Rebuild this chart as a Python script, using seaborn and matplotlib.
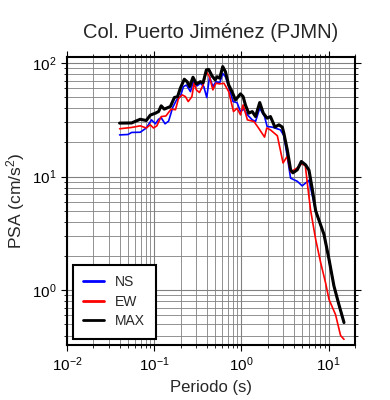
import matplotlib
matplotlib.use("Agg")
import matplotlib.pyplot as plt
import matplotlib.ticker as mticker
import seaborn as sns
import pandas as pd

title = "Col. Puerto Jiménez (PJMN)"
xlabel = "Periodo (s)"
ylabel = "PSA (cm/s$^2$)"

ns_T = [0.04, 0.05, 0.055, 0.069, 0.081, 0.093, 0.103, 0.112, 0.12, 0.133, 0.146,
        0.163, 0.18, 0.199, 0.216, 0.234, 0.26, 0.28, 0.31, 0.338, 0.37, 0.40, 0.43,
        0.47, 0.51, 0.563, 0.61, 0.654, 0.714, 0.80, 0.89, 0.975, 1.06, 1.17, 1.33,
        1.45, 1.62, 1.84, 1.97, 2.25, 2.8, 3.06, 3.35, 3.66, 4.37, 4.97, 5.95,
        7.1, 8.84, 10.1, 11.5, 13.1, 15.0]
ns_psa = [23.3, 23.5, 24.5, 24.6, 26.8, 31.6, 29.2, 32.0, 33.0, 29.2, 30.8,
          40.8, 47.3, 50.6, 62.0, 64.0, 56.0, 68.5, 63.0, 66.4, 62.0, 49.7, 75.8,
          62.0, 68.5, 67.0, 81.0, 75.8, 62.0, 45.8, 44.8, 37.4, 39.3, 35.0, 31.6,
          30.6, 40.0, 33.8, 27.6, 27.3, 25.8, 23.0, 15.1, 9.7, 9.1, 8.3, 9.3,
          5.0, 3.1, 1.87, 1.09, 0.75, 0.52]

ew_T = [0.04, 0.055, 0.069, 0.081, 0.09, 0.098, 0.107, 0.12, 0.136, 0.156, 0.175,
        0.19, 0.21, 0.228, 0.245, 0.27, 0.286, 0.304, 0.33, 0.363, 0.396, 0.43,
        0.47, 0.51, 0.563, 0.63, 0.714, 0.81, 0.89, 0.975, 1.045, 1.17, 1.39, 1.57,
        1.84, 1.95, 2.15, 2.58, 3.0, 3.35, 3.66, 4.4, 4.9, 5.4, 5.69, 6.2, 7.1,
        8.1, 9.2, 10.1, 12.0, 13.7, 15.0]
ew_psa = [26.4, 27.1, 28.0, 26.8, 28.6, 26.8, 28.0, 33.8, 34.2, 39.3, 38.8,
          49.0, 52.4, 50.6, 45.8, 50.6, 66.4, 58.0, 55.0, 64.0, 84.0, 75.8,
          58.0, 66.4, 65.5, 66.4, 56.0, 37.4, 40.0, 35.0, 42.8, 31.6, 30.6, 26.8,
          22.3, 26.8, 25.8, 22.9, 13.2, 15.1, 11.0, 12.0, 13.0, 12.5, 8.8, 5.1, 2.8,
          1.75, 1.17, 0.83, 0.61, 0.40, 0.37]

max_T = [0.04, 0.055, 0.069, 0.081, 0.09, 0.103, 0.112, 0.12, 0.13, 0.153, 0.17,
         0.185, 0.199, 0.221, 0.238, 0.255, 0.278, 0.304, 0.338, 0.363, 0.396, 0.42,
         0.46, 0.50, 0.525, 0.563, 0.61, 0.654, 0.714, 0.78, 0.853, 0.975, 1.045,
         1.11, 1.21, 1.33, 1.45, 1.62, 1.78, 1.97, 2.15, 2.42, 2.69, 2.94, 3.06,
         3.35, 3.66, 3.89, 4.37, 4.86, 5.44, 5.95, 6.5, 7.1, 8.84, 10.1, 11.5,
         13.1, 15.0]
max_psa = [29.6, 29.7, 32.0, 31.2, 34.8, 36.2, 37.4, 42.0, 39.3, 41.4, 49.7,
           50.6, 60.0, 72.0, 68.5, 62.0, 75.0, 65.5, 68.5, 67.0, 87.0, 88.0,
           77.0, 71.0, 75.8, 73.5, 93.0, 84.0, 64.0, 56.0, 47.3, 53.5, 50.6,
           42.8, 36.2, 37.4, 33.8, 44.9, 36.2, 32.7, 33.8, 27.3, 28.6, 27.3, 24.2,
           17.3, 11.5, 10.8, 11.5, 13.6, 12.7, 11.4, 7.7, 5.0, 3.1, 1.87, 1.09,
           0.75, 0.52]

series_names = ["NS", "EW", "MAX"]
series_colors = ["#0000ff", "#ff0000", "#000000"]
series_widths = [1.2, 1.2, 2.2]

sns.set_style("ticks")
plt.rcParams['font.family'] = ['Liberation Sans', 'DejaVu Sans']
plt.rcParams['mathtext.fontset'] = 'custom'
plt.rcParams['mathtext.rm'] = 'Liberation Sans'
plt.rcParams['mathtext.it'] = 'Liberation Sans:italic'
plt.rcParams['mathtext.bf'] = 'Liberation Sans:bold'

fig = plt.figure(figsize=(3.9, 4.0), dpi=100)
ax = fig.add_axes([0.172, 0.1375, 0.738, 0.72])

data = [(ns_T, ns_psa), (ew_T, ew_psa), (max_T, max_psa)]
for (T, v), name, c, lw in zip(data, series_names, series_colors, series_widths):
    df = pd.DataFrame({"T": T, "PSA": v})
    sns.lineplot(data=df, x="T", y="PSA", ax=ax, color=c, linewidth=lw,
                 label=name, zorder=3, estimator=None, sort=False)

ax.set_xscale("log")
ax.set_yscale("log")
ax.set_xlim(0.01, 20)
ax.set_ylim(0.33, 113)

ax.xaxis.set_major_locator(mticker.LogLocator(base=10, numticks=10))
ax.xaxis.set_minor_locator(mticker.LogLocator(base=10, subs=range(2, 10), numticks=20))
ax.yaxis.set_major_locator(mticker.LogLocator(base=10, numticks=10))
ax.yaxis.set_minor_locator(mticker.LogLocator(base=10, subs=range(2, 10), numticks=20))
ax.xaxis.set_minor_formatter(mticker.NullFormatter())
ax.yaxis.set_minor_formatter(mticker.NullFormatter())

ax.grid(True, which="major", color="#808080", linewidth=0.8)
ax.grid(True, which="minor", color="#808080", linewidth=0.6)

ax.tick_params(which="both", direction="out", top=True, right=True,
               labeltop=False, labelright=False, colors="black", labelsize=11)
ax.tick_params(which="major", length=4, width=0.8)
ax.tick_params(which="minor", length=2.5, width=0.6)
for s in ax.spines.values():
    s.set_linewidth(1.5)
    s.set_color("black")

ax.set_title(title, fontsize=14.5, pad=14)
ax.set_xlabel(xlabel, fontsize=12, labelpad=4)
ax.set_ylabel(ylabel, fontsize=12.5, labelpad=4)

leg = ax.legend(loc="lower left", bbox_to_anchor=(0.02, 0.022), fontsize=10,
                frameon=True, fancybox=False, framealpha=1, edgecolor="black",
                handlelength=1.5, borderpad=0.75, labelspacing=0.4,
                handletextpad=0.8, borderaxespad=0)
leg.get_frame().set_linewidth(1.5)
for h in leg.get_lines():
    h.set_linewidth(2)

fig.savefig("out.png", dpi=100)
